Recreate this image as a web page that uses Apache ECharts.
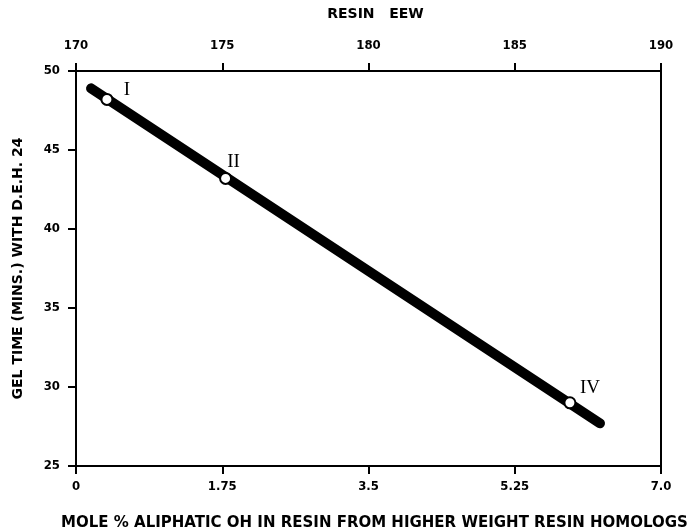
<!DOCTYPE html>
<html>
<head>
<meta charset="utf-8">
<script src="https://cdn.jsdelivr.net/npm/echarts@6/dist/echarts.min.js"></script>
<style>
  html, body { margin: 0; padding: 0; background: #fff; }
  #chart { width: 687px; height: 532px; }
</style>
</head>
<body>
<div id="chart"></div>
<script>
// Resin samples: mole % aliphatic OH vs. gel time
const sampleNames = ['I', 'II', 'IV'];
const molePct = [0.37, 1.79, 5.91];
const gelTime = [48.2, 43.2, 29.0];

// Fitted straight line through the samples (end points)
const fitX = [0.18, 6.27];
const fitY = [48.9, 27.7];

// Axis tick labels
const bottomTickLabels = ['0', '1.75', '3.5', '5.25', '7.0'];
const topTickLabels = ['170', '175', '180', '185', '190'];
const leftTickLabels = ['25', '30', '35', '40', '45', '50'];

// Label offsets for the roman numerals (px from the point)
const labelOffsets = [[20, -9], [8, -16], [20, -15]];

const tickFont = 'DejaVu Sans Condensed';
const titleFont = 'DejaVu Sans';
const tickText = { color: '#000', fontFamily: tickFont, fontWeight: 'bold', fontSize: 13 };
const blackLine = { show: true, lineStyle: { color: '#000', width: 2 } };
const blackTick = { show: true, length: 8, lineStyle: { color: '#000', width: 2 } };

const chart = echarts.init(document.getElementById('chart'));
chart.setOption({
  backgroundColor: '#fff',
  animation: false,
  grid: {
    left: 76, right: 26, top: 71, bottom: 66,
    containLabel: false, outerBoundsMode: 'none',
    show: true, borderColor: '#000', borderWidth: 2, backgroundColor: 'transparent'
  },
  xAxis: [
    {
      type: 'value', position: 'bottom', min: 0, max: 7, interval: 1.75,
      axisLine: blackLine, axisTick: blackTick, splitLine: { show: false },
      axisLabel: Object.assign({}, tickText, {
        margin: 14,
        formatter: (v) => bottomTickLabels[Math.round(v / 1.75)]
      }),
      name: 'MOLE % ALIPHATIC OH IN RESIN FROM HIGHER WEIGHT RESIN HOMOLOGS',
      nameLocation: 'middle', nameGap: 50,
      nameTextStyle: {
        color: '#000', fontFamily: titleFont, fontWeight: 'bold', fontSize: 15,
        padding: [0, 0, 0, 12]
      }
    },
    {
      type: 'value', position: 'top', min: 170, max: 190, interval: 5,
      axisLine: blackLine, axisTick: blackTick, splitLine: { show: false },
      axisLabel: Object.assign({}, tickText, {
        margin: 19,
        formatter: (v) => topTickLabels[Math.round((v - 170) / 5)]
      }),
      name: 'RESIN   EEW',
      nameLocation: 'middle', nameGap: 50,
      nameTextStyle: {
        color: '#000', fontFamily: titleFont, fontWeight: 'bold', fontSize: 14,
        padding: [0, 0, 0, 14]
      }
    }
  ],
  yAxis: {
    type: 'value', min: 25, max: 50, interval: 5,
    axisLine: blackLine, axisTick: blackTick, splitLine: { show: false },
    axisLabel: Object.assign({}, tickText, {
      margin: 16,
      formatter: (v) => leftTickLabels[Math.round((v - 25) / 5)]
    }),
    name: 'GEL TIME (MINS.) WITH D.E.H. 24',
    nameLocation: 'middle', nameGap: 51, nameRotate: 90,
    nameTextStyle: { color: '#000', fontFamily: titleFont, fontWeight: 'bold', fontSize: 14 }
  },
  series: [
    {
      type: 'line',
      xAxisIndex: 0,
      data: fitX.map((x, i) => [x, fitY[i]]),
      symbol: 'none',
      lineStyle: { color: '#000', width: 10, cap: 'round' },
      z: 2
    },
    {
      type: 'scatter',
      xAxisIndex: 0,
      data: molePct.map((x, i) => ({
        name: sampleNames[i],
        value: [x, gelTime[i]],
        label: { offset: labelOffsets[i] }
      })),
      symbol: 'circle',
      symbolSize: 11,
      itemStyle: { color: '#fff', borderColor: '#000', borderWidth: 2, opacity: 1 },
      label: {
        show: true,
        position: 'inside',
        formatter: (p) => p.name,
        color: '#000',
        fontFamily: 'Liberation Serif',
        fontSize: 19
      },
      z: 3
    }
  ]
});
</script>
</body>
</html>
